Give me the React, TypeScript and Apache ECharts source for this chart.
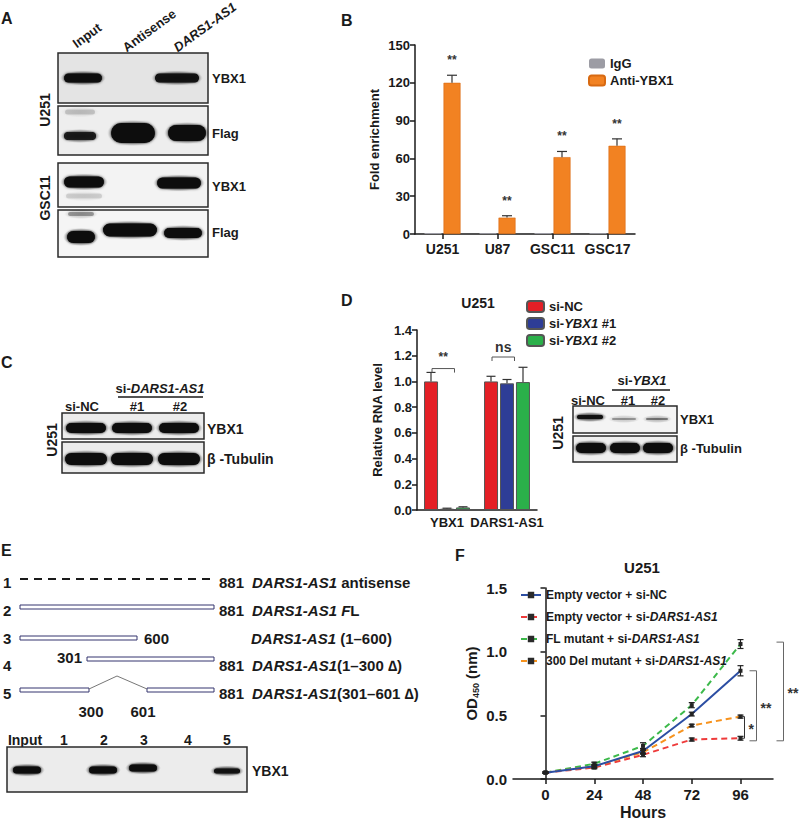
import React, { useEffect, useRef } from 'react';
import * as echarts from 'echarts';

const FONT = '"Liberation Sans", Arial, Helvetica, sans-serif';
const INK = '#1a1a1a';

// ---------- Panel B data ----------
const bCategories = ['U251', 'U87', 'GSC11', 'GSC17'];
const bIgG = [0.8, 0.7, 0.8, 0.7];
const bAnti = [120, 13, 61, 70];
const bAntiErr = [6, 1.5, 4.5, 5.5];
const bStars = ['**', '**', '**', '**'];

// ---------- Panel D data ----------
const dCategories = ['YBX1', 'DARS1-AS1'];
const dSiNC = [1.0, 1.0];
const dSiYbx1 = [0.01, 0.985];
const dSiYbx2 = [0.02, 0.995];
const dErrNC = [0.07, 0.04];
const dErr1 = [0.004, 0.03];
const dErr2 = [0.005, 0.115];
const dBracketY = [1.1, 1.19];
const dBracketLabels = ['**', 'ns'];

// ---------- Panel F data ----------
const fHours = [0, 24, 48, 72, 96];
const fEmptyNC = [0.05, 0.1, 0.22, 0.51, 0.85];
const fEmptyNCErr = [0.006, 0.015, 0.02, 0.015, 0.04];
const fEmptySi = [0.05, 0.09, 0.19, 0.31, 0.32];
const fEmptySiErr = [0.005, 0.01, 0.015, 0.012, 0.015];
const fFL = [0.05, 0.12, 0.26, 0.58, 1.06];
const fFLErr = [0.005, 0.012, 0.025, 0.02, 0.035];
const fDel = [0.05, 0.1, 0.21, 0.42, 0.49];
const fDelErr = [0.005, 0.01, 0.015, 0.01, 0.012];
const fBracketTop = [0.49, 0.85, 1.075];
const fBracketBottom = [0.32, 0.3, 0.3];
const fBracketLabels = ['*', '**', '**'];

const richDefs = (size: number) => ({
  n: { fontFamily: FONT, fontSize: size, fontWeight: 'bold', fill: INK, color: INK },
  i: { fontFamily: FONT, fontSize: size, fontWeight: 'bold', fontStyle: 'italic', fill: INK, color: INK },
});

function txt(text: string, x: number, y: number, o: any = {}) {
  return {
    type: 'text',
    x,
    y,
    rotation: o.rot || 0,
    silent: true,
    style: {
      text,
      x: 0,
      y: 0,
      fontFamily: FONT,
      fontSize: o.size || 13,
      fontWeight: o.weight || 'bold',
      fontStyle: o.style || 'normal',
      fill: o.fill || INK,
      textAlign: o.align || 'left',
      textVerticalAlign: o.va || 'middle',
      verticalAlign: o.va || 'middle',
      rich: o.rich,
    },
  };
}

function richTxt(text: string, x: number, y: number, size: number, o: any = {}) {
  return txt(text, x, y, { ...o, size, rich: richDefs(size) });
}

function rect(x: number, y: number, w: number, h: number, fill = '#efefef', stroke = '#2a2a2a', lw = 1.5) {
  return { type: 'rect', silent: true, shape: { x, y, width: w, height: h }, style: { fill, stroke, lineWidth: lw } };
}

function line(x1: number, y1: number, x2: number, y2: number, stroke = INK, lw = 1.5, dash?: number[]) {
  return { type: 'line', silent: true, shape: { x1, y1, x2, y2 }, style: { stroke, lineWidth: lw, lineDash: dash } };
}

// a blurred western-blot band: soft halo + solid rounded core
function band(cx: number, cy: number, w: number, h: number, a = 1) {
  return {
    type: 'group',
    silent: true,
    children: [
      {
        type: 'ellipse',
        shape: { cx, cy, rx: w / 2 + 2, ry: h / 2 + 2 },
        style: {
          fill: new echarts.graphic.RadialGradient(0.5, 0.5, 0.5, [
            { offset: 0, color: `rgba(10,10,10,${a * 0.6})` },
            { offset: 0.7, color: `rgba(20,20,20,${a * 0.35})` },
            { offset: 1, color: 'rgba(30,30,30,0)' },
          ]),
        },
      },
      {
        type: 'rect',
        shape: { x: cx - w / 2 + 2, y: cy - h / 2 + 1, width: w - 4, height: h - 2, r: (h - 2) / 2 },
        style: { fill: `rgba(8,8,8,${a})`, shadowBlur: 3, shadowColor: `rgba(0,0,0,${a * 0.8})` },
      },
    ],
  };
}

function buildGraphics() {
  const g: any[] = [];
  // ----- Panel A -----
  g.push(txt('A', 1, 18, { size: 16 }));
  g.push(txt('Input', 78, 50, { rot: 0.63, va: 'bottom' }));
  g.push(txt('Antisense', 128, 54, { rot: 0.63, va: 'bottom' }));
  g.push(txt('DARS1-AS1', 179, 54, { rot: 0.63, va: 'bottom', style: 'italic' }));
  g.push(rect(58, 53, 150, 50, '#e4e4e4'));
  g.push(rect(58, 106, 150, 49, '#eeeeee'));
  g.push(rect(58, 163, 150, 44, '#f3f3f3'));
  g.push(rect(58, 210, 150, 47, '#f5f5f5'));
  g.push(band(83, 78, 42, 11, 1), band(177, 78, 48, 11, 0.92));
  g.push(band(80, 112, 34, 7, 0.15), band(80, 136, 36, 10, 0.85), band(133, 133, 48, 22, 1), band(187, 133, 42, 18, 1));
  g.push(band(84, 182, 44, 13, 1), band(84, 196, 40, 7, 0.12), band(179, 183, 48, 13, 1));
  g.push(band(81, 214, 30, 6, 0.3), band(81, 237, 32, 14, 1), band(130, 230, 58, 15, 1), band(183, 233, 42, 12, 1));
  g.push(txt('YBX1', 212, 78), txt('Flag', 212, 133), txt('YBX1', 212, 186), txt('Flag', 212, 232));
  g.push(txt('U251', 45, 110, { rot: Math.PI / 2, align: 'center', size: 14 }));
  g.push(txt('GSC11', 45, 198, { rot: Math.PI / 2, align: 'center', size: 14 }));

  // ----- Panel B / D / F letters & titles -----
  g.push(txt('B', 341, 20, { size: 16 }));
  g.push(txt('D', 341, 300, { size: 16 }));
  g.push(txt('U251', 478, 303, { align: 'center', size: 14 }));
  g.push(txt('F', 455, 555, { size: 16 }));
  g.push(txt('U251', 642, 567, { align: 'center', size: 15 }));

  // ----- Panel C -----
  g.push(txt('C', 1, 362, { size: 16 }));
  g.push(richTxt('{n|si-}{i|DARS1-AS1}', 160, 388, 13, { align: 'center' }));
  g.push(line(118, 397, 203, 397, INK, 1.5));
  g.push(txt('si-NC', 82, 406, { align: 'center' }), txt('#1', 137, 406, { align: 'center' }), txt('#2', 180, 406, { align: 'center' }));
  g.push(rect(62, 413, 142, 26, '#ececec'));
  g.push(rect(62, 442, 142, 31, '#ececec'));
  g.push(band(86, 428, 44, 12, 1), band(132, 428, 44, 12, 1), band(179, 428, 44, 12, 1));
  g.push(band(86, 459, 46, 14, 1), band(132, 459, 46, 14, 1), band(179, 459, 46, 14, 1));
  g.push(txt('YBX1', 207, 429, { size: 14 }), txt('\u03b2 -Tubulin', 207, 459, { size: 14 }));
  g.push(txt('U251', 52, 440, { rot: Math.PI / 2, align: 'center', size: 14 }));

  // ----- Panel D right blot -----
  g.push(richTxt('{n|si-}{i|YBX1}', 642, 380, 13, { align: 'center' }));
  g.push(line(612, 390, 670, 390, INK, 1.5));
  g.push(txt('si-NC', 588, 400, { align: 'center' }), txt('#1', 628, 400, { align: 'center' }), txt('#2', 658, 400, { align: 'center' }));
  g.push(rect(573, 406, 104, 27, '#f4f4f4'));
  g.push(rect(573, 436, 104, 26, '#efefef'));
  g.push(band(590, 417, 30, 6, 0.95), band(624, 419, 28, 4, 0.3), band(657, 419, 26, 4, 0.4));
  g.push(band(591, 448, 34, 12, 1), band(625, 448, 34, 12, 1), band(658, 448, 34, 12, 1));
  g.push(txt('YBX1', 680, 419), txt('\u03b2 -Tubulin', 680, 448));
  g.push(txt('U251', 558, 433, { rot: Math.PI / 2, align: 'center', size: 14 }));

  // ----- Panel E -----
  g.push(txt('E', 1, 550, { size: 16 }));
  const rowsY = [582, 610, 638, 665, 693];
  rowsY.forEach((y, i) => g.push(txt(String(i + 1), 3, y, { size: 15 })));
  g.push(line(20, 579, 213, 579, INK, 2, [8, 6]));
  const navy = '#34346e';
  g.push(rect(20, 605, 194, 4, '#fff', navy, 1));
  g.push(rect(20, 636, 117, 4, '#fff', navy, 1));
  g.push(rect(87, 657, 127, 4, '#fff', navy, 1));
  g.push(rect(20, 688, 69, 4, '#fff', navy, 1));
  g.push(rect(147, 688, 67, 4, '#fff', navy, 1));
  g.push({ type: 'polyline', silent: true, shape: { points: [[89, 689], [117, 676], [147, 689]] }, style: { stroke: '#777', lineWidth: 1, fill: 'none' } });
  g.push(txt('600', 144, 638, { size: 15 }));
  g.push(txt('301', 57, 657, { size: 15 }));
  g.push(txt('300', 91, 711, { size: 15, align: 'center' }), txt('601', 143, 711, { size: 15, align: 'center' }));
  [582, 610, 665, 693].forEach((y) => g.push(txt('881', 219, y, { size: 15 })));
  g.push(richTxt('{i|DARS1-AS1}{n| antisense}', 252, 582, 15));
  g.push(richTxt('{i|DARS1-AS1 F}{n|L}', 252, 610, 15));
  g.push(richTxt('{i|DARS1-AS1}{n| (1\u2013600)}', 251, 638, 15));
  g.push(richTxt('{i|DARS1-AS1}{n|(1\u2013300 \u2206)}', 252, 665, 15));
  g.push(richTxt('{i|DARS1-AS1}{n|(301\u2013601 \u2206)}', 252, 693, 15));
  // E blot
  g.push(txt('Input', 25, 740, { align: 'center', size: 14 }));
  ['1', '2', '3', '4', '5'].forEach((s, i) => g.push(txt(s, [64, 104, 144, 188, 227][i], 740, { align: 'center', size: 14 })));
  g.push(rect(7, 747, 240, 45, '#ececec'));
  g.push(band(27, 770, 32, 9, 1), band(103, 770, 32, 9, 1), band(143, 768, 32, 9, 1), band(227, 771, 30, 7, 0.92));
  g.push(txt('YBX1', 252, 771, { size: 14 }));
  return g;
}

const axisLine = { show: true, lineStyle: { color: INK, width: 1.5 } };
const axisTick = { show: true, length: 5, lineStyle: { color: INK, width: 1.5 } };
const lbl = (size: number) => ({ color: INK, fontWeight: 'bold', fontSize: size, fontFamily: FONT });
const legendFmt = (name: string) =>
  name
    .split(/(DARS1-AS1|YBX1)/)
    .filter((s) => s.length)
    .map((s) => (s === 'DARS1-AS1' || s === 'YBX1' ? `{i|${s}}` : `{n|${s}}`))
    .join('');

function buildOption(): any {
  const dCols = ['#e41f26', '#2e3d96', '#2bb04a'];
  const dVals = [dSiNC, dSiYbx1, dSiYbx2];
  const dErrs = [dErrNC, dErr1, dErr2];
  const dNames = ['si-NC', 'si-YBX1 #1', 'si-YBX1 #2'];
  const fNames = ['Empty vector + si-NC', 'Empty vector + si-DARS1-AS1', 'FL mutant + si-DARS1-AS1', '300 Del mutant + si-DARS1-AS1'];
  const fVals = [fEmptyNC, fEmptySi, fFL, fDel];
  const fErrs = [fEmptyNCErr, fEmptySiErr, fFLErr, fDelErr];
  const fCols = ['#2c4ea3', '#ee3b3b', '#3cb94a', '#f7931e'];

  const series: any[] = [];
  // B
  series.push({ type: 'bar', name: 'IgG', xAxisIndex: 0, yAxisIndex: 0, data: bIgG, barWidth: 17, barGap: '12%', itemStyle: { color: '#9c9ca4' } });
  series.push({ type: 'bar', name: 'Anti-YBX1', xAxisIndex: 0, yAxisIndex: 0, data: bAnti, barWidth: 17, barGap: '12%', itemStyle: { color: '#f28222', borderColor: '#d86a12', borderWidth: 0.6 } });
  series.push({
    type: 'custom', xAxisIndex: 0, yAxisIndex: 0, silent: true, z: 5,
    data: bAnti.map((v, i) => [i, v, bAntiErr[i]]),
    renderItem: (params: any, api: any) => {
      const i = api.value(0), v = api.value(1), e = api.value(2);
      const b = api.coord([i, v]);
      const t = api.coord([i, v + e]);
      const x = b[0] + 9.5;
      return {
        type: 'group', children: [
          { type: 'line', shape: { x1: x, y1: b[1], x2: x, y2: t[1] }, style: { stroke: '#333', lineWidth: 1.2 } },
          { type: 'line', shape: { x1: x - 5, y1: t[1], x2: x + 5, y2: t[1] }, style: { stroke: '#333', lineWidth: 1.2 } },
          { type: 'text', style: { text: bStars[params.dataIndex], x: x, y: t[1] - 15, textAlign: 'center', textVerticalAlign: 'middle', verticalAlign: 'middle', fontFamily: FONT, fontSize: 12, fontWeight: 'bold', fill: '#333' } },
        ],
      };
    },
  });
  // D
  dVals.forEach((vals, k) => {
    series.push({ type: 'bar', name: dNames[k], xAxisIndex: 1, yAxisIndex: 1, data: vals, barWidth: 14, barGap: '14%', itemStyle: { color: dCols[k], borderColor: '#555', borderWidth: 1 } });
  });
  const dErrData: number[][] = [];
  dVals.forEach((vals, k) => vals.forEach((v, i) => dErrData.push([i, v, dErrs[k][i], k])));
  series.push({
    type: 'custom', xAxisIndex: 1, yAxisIndex: 1, silent: true, z: 5, data: dErrData,
    renderItem: (params: any, api: any) => {
      const i = api.value(0), v = api.value(1), e = api.value(2), k = api.value(3);
      const b = api.coord([i, v]);
      const t = api.coord([i, v + e]);
      const x = b[0] + (k - 1) * 16;
      return {
        type: 'group', children: [
          { type: 'line', shape: { x1: x, y1: b[1], x2: x, y2: t[1] }, style: { stroke: '#333', lineWidth: 1.2 } },
          { type: 'line', shape: { x1: x - 4.5, y1: t[1], x2: x + 4.5, y2: t[1] }, style: { stroke: '#333', lineWidth: 1.2 } },
        ],
      };
    },
  });
  series.push({
    type: 'custom', xAxisIndex: 1, yAxisIndex: 1, silent: true, z: 5,
    data: dBracketY.map((y, i) => [i, y]),
    renderItem: (params: any, api: any) => {
      const c = api.coord([api.value(0), api.value(1)]);
      const x1 = c[0] - 15, x2 = c[0] + 7.5, y = c[1];
      const lab = dBracketLabels[params.dataIndex];
      return {
        type: 'group', children: [
          { type: 'polyline', shape: { points: [[x1, y + 4], [x1, y], [x2, y], [x2, y + 4]] }, style: { stroke: '#555', lineWidth: 1, fill: 'none' } },
          { type: 'text', style: { text: lab, x: (x1 + x2) / 2, y: y - (lab === 'ns' ? 10 : 12), textAlign: 'center', textVerticalAlign: 'middle', verticalAlign: 'middle', fontFamily: FONT, fontSize: lab === 'ns' ? 14 : 12, fontWeight: 'bold', fill: '#333' } },
        ],
      };
    },
  });
  // F
  fVals.forEach((vals, k) => {
    series.push({
      type: 'line', name: fNames[k], xAxisIndex: 2, yAxisIndex: 2, z: k === 0 ? 4 : 3,
      data: fHours.map((h, i) => [h, vals[i]]),
      symbol: 'rect', symbolSize: 4,
      itemStyle: { color: '#2a2a2a' },
      lineStyle: { color: fCols[k], width: 2, type: k === 0 ? 'solid' : [6, 4] },
    });
  });
  const fErrData: number[][] = [];
  fVals.forEach((vals, k) => vals.forEach((v, i) => fErrData.push([fHours[i], v, fErrs[k][i]])));
  series.push({
    type: 'custom', xAxisIndex: 2, yAxisIndex: 2, silent: true, z: 6, data: fErrData,
    renderItem: (params: any, api: any) => {
      const x = api.value(0), v = api.value(1), e = api.value(2);
      const lo = api.coord([x, v - e]);
      const hi = api.coord([x, v + e]);
      return {
        type: 'group', children: [
          { type: 'line', shape: { x1: lo[0], y1: lo[1], x2: hi[0], y2: hi[1] }, style: { stroke: '#222', lineWidth: 1.2 } },
          { type: 'line', shape: { x1: lo[0] - 3, y1: lo[1], x2: lo[0] + 3, y2: lo[1] }, style: { stroke: '#222', lineWidth: 1.2 } },
          { type: 'line', shape: { x1: hi[0] - 3, y1: hi[1], x2: hi[0] + 3, y2: hi[1] }, style: { stroke: '#222', lineWidth: 1.2 } },
        ],
      };
    },
  });
  series.push({
    type: 'custom', xAxisIndex: 2, yAxisIndex: 2, silent: true, z: 6,
    data: fBracketTop.map((t, i) => [fHours[fHours.length - 1], t, fBracketBottom[i]]),
    renderItem: (params: any, api: any) => {
      const idx = params.dataIndex;
      const top = api.coord([api.value(0), api.value(1)]);
      const bot = api.coord([api.value(0), api.value(2)]);
      const off = [4, 16, 43][idx];
      const tick = [3, 7, 7][idx];
      const x = top[0] + off;
      return {
        type: 'group', children: [
          { type: 'polyline', shape: { points: [[x - tick, top[1]], [x, top[1]], [x, bot[1]], [x - tick, bot[1]]] }, style: { stroke: idx === 0 ? '#333' : '#666', lineWidth: 1, fill: 'none' } },
          { type: 'text', style: { text: fBracketLabels[idx], x: x + 4, y: (top[1] + bot[1]) / 2 + 2, textAlign: 'left', textVerticalAlign: 'middle', verticalAlign: 'middle', fontFamily: FONT, fontSize: 14, fontWeight: 'bold', fill: '#333' } },
        ],
      };
    },
  });

  return {
    animation: false,
    backgroundColor: '#ffffff',
    textStyle: { fontFamily: FONT },
    grid: [
      { left: 415, top: 45, width: 220, height: 189 },
      { left: 417, top: 330, width: 120, height: 180 },
      { left: 513, top: 588, width: 260, height: 194 },
    ],
    xAxis: [
      { gridIndex: 0, type: 'category', data: bCategories, axisLine, axisTick: { ...axisTick, alignWithLabel: true }, axisLabel: { ...lbl(14), margin: 8, interval: 0 } },
      { gridIndex: 1, type: 'category', data: dCategories, axisLine, axisTick: { show: false }, axisLabel: { ...lbl(13), margin: 6, interval: 0 } },
      {
        gridIndex: 2, type: 'value', min: -16, max: 112, splitLine: { show: false }, axisLine,
        axisTick: { ...axisTick, customValues: fHours }, axisLabel: { ...lbl(15), margin: 8, customValues: fHours },
        name: 'Hours', nameLocation: 'middle', nameGap: 25, nameTextStyle: { ...lbl(16) },
      },
    ],
    yAxis: [
      {
        gridIndex: 0, type: 'value', min: 0, max: 150, interval: 30, splitLine: { show: false }, axisLine, axisTick,
        axisLabel: { ...lbl(13), margin: 5 },
        name: 'Fold enrichment', nameLocation: 'middle', nameGap: 34, nameTextStyle: { ...lbl(13) },
      },
      {
        gridIndex: 1, type: 'value', min: 0, max: 1.4, interval: 0.2, splitLine: { show: false }, axisLine, axisTick,
        axisLabel: { ...lbl(13), margin: 5, formatter: (v: number) => v.toFixed(1) },
        name: 'Relative RNA level', nameLocation: 'middle', nameGap: 33, nameTextStyle: { ...lbl(13) },
      },
      {
        gridIndex: 2, type: 'value', min: 0, max: 1.5, interval: 0.5, splitLine: { show: false }, axisLine, axisTick,
        axisLabel: { ...lbl(15), margin: 6, formatter: (v: number) => v.toFixed(1) },
        name: '{a|OD}{b|450}{a| (nm)}', nameLocation: 'middle', nameGap: 33,
        nameTextStyle: {
          rich: {
            a: { fontFamily: FONT, fontSize: 15, fontWeight: 'bold', color: INK, lineHeight: 18 },
            b: { fontFamily: FONT, fontSize: 9, fontWeight: 'bold', color: INK, lineHeight: 18, verticalAlign: 'bottom' },
          },
        },
      },
    ],
    legend: [
      {
        data: ['IgG', 'Anti-YBX1'], left: 583, top: 52, orient: 'vertical', itemWidth: 16, itemHeight: 10, itemGap: 4,
        selectedMode: false, textStyle: { ...lbl(13) },
      },
      {
        data: dNames, left: 521, top: 295, orient: 'vertical', itemWidth: 17, itemHeight: 11, itemGap: 4,
        selectedMode: false, formatter: legendFmt, textStyle: { ...lbl(13), rich: richDefs(13) },
      },
      {
        data: fNames, left: 515, top: 584, orient: 'vertical', itemWidth: 20, itemHeight: 8, itemGap: 10,
        selectedMode: false, formatter: legendFmt, textStyle: { ...lbl(12), rich: richDefs(12) },
      },
    ],
    series,
    graphic: { elements: buildGraphics() },
  };
}

export default function App() {
  const ref = useRef<HTMLDivElement>(null);
  useEffect(() => {
    document.body.style.margin = '0';
    const chart = echarts.init(ref.current!, undefined, { renderer: 'svg' });
    chart.setOption(buildOption());
    return () => chart.dispose();
  }, []);
  return <div ref={ref} style={{ position: 'absolute', left: 0, top: 0, width: 800, height: 821, background: '#fff' }} />;
}
